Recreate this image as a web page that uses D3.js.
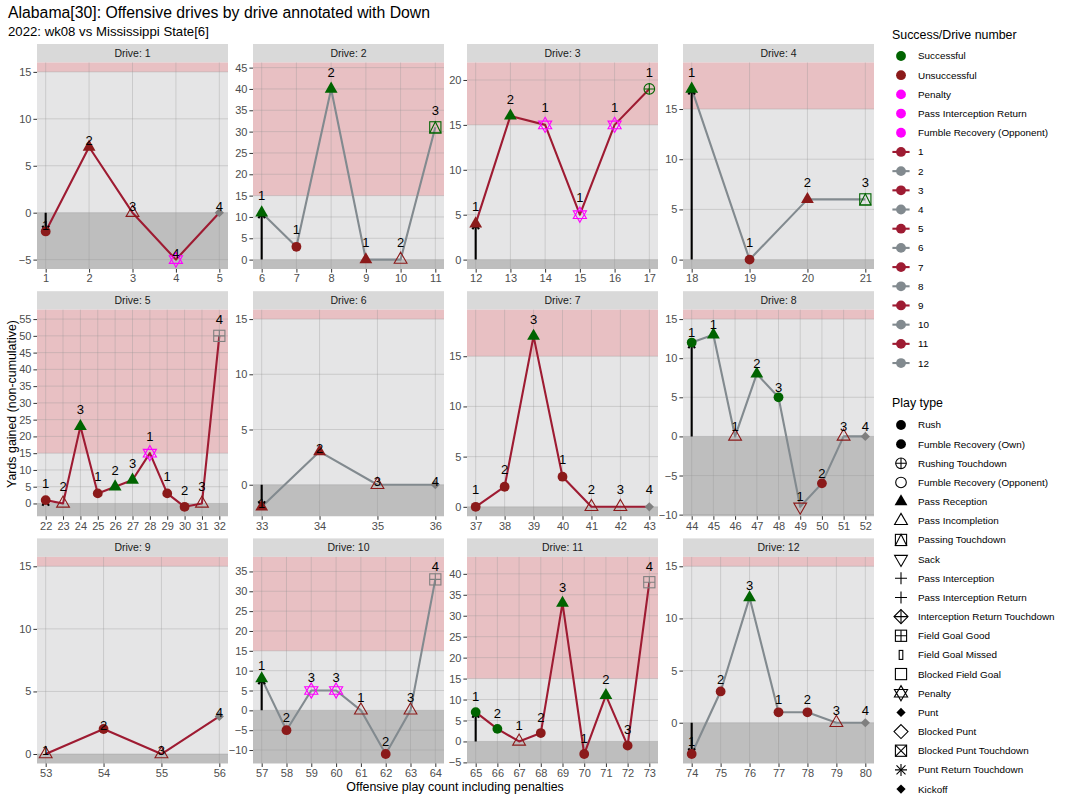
<!DOCTYPE html>
<html><head><meta charset="utf-8">
<script src="https://cdn.jsdelivr.net/npm/d3@7"></script>
<style>body{margin:0;background:#fff;} text{font-family:"Liberation Sans",Arial,sans-serif;}</style>
</head><body><svg id="c" width="1067" height="800"></svg>
<script>
// ---------------- DATA ----------------
const driveNum = [1,1,1,1,1, 2,2,2,2,2,2, 3,3,3,3,3,3, 4,4,4,4,
  5,5,5,5,5,5,5,5,5,5,5, 6,6,6,6, 7,7,7,7,7,7,7, 8,8,8,8,8,8,8,8,8,
  9,9,9,9, 10,10,10,10,10,10,10,10, 11,11,11,11,11,11,11,11,11, 12,12,12,12,12,12,12];
const yards = [-2,7,0,-5,0, 11,3,40,0,0,31, 4,16,15,5,15,19, 17,0,6,6,
  1,0,23,3,5,7,15,3,-1,0,50, -2,3,0,0, 0,2,17,3,0,0,0, 12,13,0,8,5,-9,-6,0,0,
  0,2,0,3, 8,-5,5,5,0,-11,0,33, 7,3,0,2,33,-3,11,-1,38, -3,3,12,1,1,0,0];
const playType = [
  "Rush","Pass Reception","Pass Incompletion","Penalty","Punt",
  "Pass Reception","Rush","Pass Reception","Pass Reception","Pass Incompletion","Passing Touchdown",
  "Pass Reception","Pass Reception","Penalty","Penalty","Penalty","Rushing Touchdown",
  "Pass Reception","Rush","Pass Reception","Passing Touchdown",
  "Rush","Pass Incompletion","Pass Reception","Rush","Pass Reception","Pass Reception","Penalty","Rush","Rush","Pass Incompletion","Field Goal Good",
  "Pass Reception","Pass Reception","Pass Incompletion","Punt",
  "Rush","Rush","Pass Reception","Rush","Pass Incompletion","Pass Incompletion","Punt",
  "Rush","Pass Reception","Pass Incompletion","Pass Reception","Rush","Sack","Rush","Pass Incompletion","Punt",
  "Pass Incompletion","Rush","Pass Incompletion","Punt",
  "Pass Reception","Rush","Penalty","Penalty","Pass Incompletion","Rush","Pass Incompletion","Field Goal Good",
  "Rush","Rush","Pass Incompletion","Rush","Pass Reception","Rush","Pass Reception","Rush","Field Goal Good",
  "Rush","Rush","Pass Reception","Rush","Rush","Pass Incompletion","Punt"];
const success = [
  "U","U","U","P","N", "S","U","S","U","U","S", "U","S","P","P","P","S", "S","U","U","S",
  "U","U","S","U","S","S","P","U","U","U","N", "U","U","U","N", "U","U","S","U","U","U","N",
  "S","S","U","S","S","U","U","U","N", "U","U","U","N", "S","U","P","P","U","U","U","N",
  "S","S","U","U","S","U","S","U","N", "U","U","S","U","U","U","N"];
const down = [1,2,3,4,4, 1,1,2,1,2,3, 1,2,1,1,1,1, 1,1,2,3,
  1,2,3,1,2,3,1,1,2,3,4, 1,2,3,4, 1,2,3,1,2,3,4, 1,1,1,2,3,1,2,3,4,
  1,2,3,4, 1,2,3,3,1,2,3,4, 1,2,1,2,3,1,2,3,4, 1,2,3,1,2,3,4];
const drives = d3.range(1, 13);
const successLabels = ["Successful","Unsuccessful","Penalty","Pass Interception Return","Fumble Recovery (Opponent)"];
const playTypeLabels = ["Rush","Fumble Recovery (Own)","Rushing Touchdown","Fumble Recovery (Opponent)","Pass Reception",
  "Pass Incompletion","Passing Touchdown","Sack","Pass Interception","Pass Interception Return",
  "Interception Return Touchdown","Field Goal Good","Field Goal Missed","Blocked Field Goal","Penalty",
  "Punt","Blocked Punt","Blocked Punt Touchdown","Punt Return Touchdown","Kickoff"];
const titleText = "Alabama[30]: Offensive drives by drive annotated with Down";
const subtitleText = "2022: wk08 vs Mississippi State[6]";

// ---------------- STYLE ----------------
const successColor = {S:"#006400", U:"#8B1A1A", P:"#FF00FF", N:"#7F7F7F"};
const successKeyColor = ["#006400","#8B1A1A","#FF00FF","#FF00FF","#FF00FF"];
const driveColor = d => d % 2 === 1 ? "#9E1B32" : "#828A8F";

const svg = d3.select("#c");
const colLeft = [37, 253, 467, 683];
const panelW = 191;
const rowTop = [44, 291.2, 538.4];
const stripH = 18.5, plotH = 206.5;

function drawShape(g, type, cx, cy, col, k) {
  k = k || 1;
  const s = g.append("g").attr("transform", `translate(${cx},${cy}) scale(${k})`);
  const sw = 1.1;
  const tri = (up, r) => up ? `M0,${-r}L${r*0.866},${r/2}L${-r*0.866},${r/2}Z`
                            : `M0,${r}L${r*0.866},${-r/2}L${-r*0.866},${-r/2}Z`;
  const open = sel => sel.attr("fill","none").attr("stroke",col).attr("stroke-width",sw);
  const sq = r => open(s.append("rect").attr("x",-r).attr("y",-r).attr("width",2*r).attr("height",2*r));
  const plus = r => open(s.append("path").attr("d",`M${-r},0H${r}M0,${-r}V${r}`));
  const cross = r => open(s.append("path").attr("d",`M${-r},${-r}L${r},${r}M${-r},${r}L${r},${-r}`));
  switch (type) {
    case "Rush": case "Fumble Recovery (Own)":
      s.append("circle").attr("r",4.9).attr("fill",col); break;
    case "Rushing Touchdown":
      open(s.append("circle").attr("r",5.3)); plus(5.3); break;
    case "Fumble Recovery (Opponent)":
      open(s.append("circle").attr("r",5.3)); break;
    case "Pass Reception":
      s.append("path").attr("d",tri(true,7.4)).attr("fill",col); break;
    case "Pass Incompletion":
      open(s.append("path").attr("d",tri(true,7.4))); break;
    case "Sack":
      open(s.append("path").attr("d",tri(false,7.4))); break;
    case "Passing Touchdown":
      sq(5.6); open(s.append("path").attr("d","M0,-5.6L5.6,5.6L-5.6,5.6Z")); break;
    case "Pass Interception": case "Pass Interception Return":
      plus(6); break;
    case "Interception Return Touchdown":
      open(s.append("path").attr("d","M0,-7L7,0L0,7L-7,0Z")); plus(7); break;
    case "Field Goal Good":
      sq(5.6); plus(5.6); break;
    case "Field Goal Missed":
      open(s.append("rect").attr("x",-1.8).attr("y",-4.5).attr("width",3.6).attr("height",9)); break;
    case "Blocked Field Goal":
      sq(5.6); break;
    case "Penalty":
      open(s.append("path").attr("d",tri(true,7.6)+tri(false,7.6))); break;
    case "Punt": case "Kickoff":
      s.append("path").attr("d","M0,-4.6L4.6,0L0,4.6L-4.6,0Z").attr("fill",col); break;
    case "Blocked Punt":
      open(s.append("path").attr("d","M0,-7L7,0L0,7L-7,0Z")); break;
    case "Blocked Punt Touchdown":
      sq(5.6); cross(5.6); break;
    case "Punt Return Touchdown":
      plus(6); cross(4.5); break;
  }
}

// ---------------- PANELS ----------------
drives.forEach((d, i) => {
  const col = i % 4, row = Math.floor(i / 4);
  const left = colLeft[col], top = rowTop[row] + stripH, bottom = top + plotH;
  const idx = d3.range(yards.length).filter(j => driveNum[j] === d);
  const pl = idx.map(j => j + 1);
  const ys = idx.map(j => yards[j]);
  const maxY = d3.max(ys), minY = d3.min(ys);
  const nudge = 0.1 * maxY;
  const hi = Math.max(15, maxY + nudge), lo = Math.min(0, minY);
  const ex = 0.05 * (hi - lo);
  const y = d3.scaleLinear().domain([lo - ex, hi + ex]).range([bottom, top]);
  const xr = d3.max(pl) - d3.min(pl);
  const x = d3.scaleLinear().domain([d3.min(pl) - 0.05 * xr, d3.max(pl) + 0.05 * xr]).range([left, left + panelW]);

  const g = svg.append("g");
  // strip
  g.append("rect").attr("x", left).attr("y", rowTop[row]).attr("width", panelW).attr("height", stripH).attr("fill", "#D9D9D9");
  g.append("text").attr("x", left + panelW / 2).attr("y", rowTop[row] + stripH / 2).attr("dy", "0.35em")
    .attr("text-anchor", "middle").attr("font-size", "10.5px").attr("fill", "#1A1A1A").text("Drive: " + d);
  // backgrounds
  g.append("rect").attr("x", left).attr("y", top).attr("width", panelW).attr("height", plotH).attr("fill", "#E5E5E6");
  g.append("rect").attr("x", left).attr("y", top).attr("width", panelW).attr("height", y(15) - top).attr("fill", "#E8C0C3");
  g.append("rect").attr("x", left).attr("y", y(0)).attr("width", panelW).attr("height", bottom - y(0)).attr("fill", "#BEBEBE");
  // grid
  const yt = d3.range(Math.ceil((lo - ex) / 5) * 5, hi + ex + 0.001, 5);
  const gg = g.append("g").attr("stroke", "rgba(150,150,150,0.33)").attr("stroke-width", 1);
  yt.forEach(v => gg.append("line").attr("x1", left).attr("x2", left + panelW).attr("y1", y(v)).attr("y2", y(v)));
  pl.forEach(v => gg.append("line").attr("y1", top).attr("y2", bottom).attr("x1", x(v)).attr("x2", x(v)));
  // axes
  const ax = g.append("g").attr("transform", `translate(0,${bottom})`)
    .call(d3.axisBottom(x).tickValues(pl).tickFormat(d3.format("d")).tickSize(3.6).tickSizeOuter(0).tickPadding(2));
  const ay = g.append("g").attr("transform", `translate(${left},0)`)
    .call(d3.axisLeft(y).tickValues(yt).tickFormat(d3.format("d")).tickSize(3.6).tickSizeOuter(0).tickPadding(2));
  [ax, ay].forEach(a => {
    a.select(".domain").remove();
    a.selectAll(".tick line").attr("stroke", "#333333");
    a.selectAll(".tick text").attr("fill", "#4D4D4D").attr("font-size", "11px")
      .attr("font-family", '"Liberation Sans", Arial, sans-serif');
  });
  // line
  g.append("path").datum(idx).attr("fill", "none").attr("stroke", driveColor(d)).attr("stroke-width", 2.1)
    .attr("stroke-linejoin", "round")
    .attr("d", d3.line().x(j => x(j + 1)).y(j => y(yards[j])));
  // arrow from 0 to first play
  const f = idx[0];
  if (yards[f] !== 0) {
    const x0 = x(f + 1), y0 = y(0), y1 = y(yards[f]);
    const dir = y1 < y0 ? 1 : -1;
    const L = 6.5, a = Math.PI / 6;
    g.append("path").attr("fill", "none").attr("stroke", "#000").attr("stroke-width", 2.1)
      .attr("d", `M${x0},${y0}L${x0},${y1}M${x0 - L * Math.sin(a)},${y1 + dir * L * Math.cos(a)}L${x0},${y1}L${x0 + L * Math.sin(a)},${y1 + dir * L * Math.cos(a)}`);
  }
  // points
  idx.forEach(j => drawShape(g, playType[j], x(j + 1), y(yards[j]), successColor[success[j]]));
  // labels
  idx.forEach(j => g.append("text").attr("x", x(j + 1)).attr("y", y(yards[j] + nudge)).attr("dy", "0.36em")
    .attr("text-anchor", "middle").attr("font-size", "13px").attr("fill", "#000").text(down[j]));
});

// ---------------- TITLES ----------------
svg.append("text").attr("x", 8).attr("y", 17.5).attr("font-size", "15.8px").attr("fill", "#000").text(titleText);
svg.append("text").attr("x", 8).attr("y", 35.5).attr("font-size", "13.2px").attr("fill", "#000").text(subtitleText);
svg.append("text").attr("x", 455).attr("y", 791).attr("text-anchor", "middle").attr("font-size", "12.4px").attr("fill", "#000")
  .text("Offensive play count including penalties");
svg.append("text").attr("transform", "translate(16,404) rotate(-90)").attr("text-anchor", "middle").attr("font-size", "12.4px")
  .attr("fill", "#000").text("Yards gained (non-cumulative)");

// ---------------- LEGENDS ----------------
const lx = 892, keyCx = 901, labX = 918;
svg.append("text").attr("x", lx).attr("y", 35).attr("dy", "0.35em").attr("font-size", "12.4px").text("Success/Drive number");
const lg1 = svg.append("g");
successLabels.forEach((lab, i) => {
  const cy = 56 + i * 19.19;
  lg1.append("circle").attr("cx", keyCx).attr("cy", cy).attr("r", 4.9).attr("fill", successKeyColor[i]);
  lg1.append("text").attr("x", labX).attr("y", cy).attr("dy", "0.35em").attr("font-size", "9.9px").text(lab);
});
drives.forEach((d, i) => {
  const cy = 56 + (i + 5) * 19.19;
  lg1.append("line").attr("x1", keyCx - 8.6).attr("x2", keyCx + 8.6).attr("y1", cy).attr("y2", cy)
    .attr("stroke", driveColor(d)).attr("stroke-width", 2.1);
  lg1.append("circle").attr("cx", keyCx).attr("cy", cy).attr("r", 4.9).attr("fill", driveColor(d));
  lg1.append("text").attr("x", labX).attr("y", cy).attr("dy", "0.35em").attr("font-size", "9.9px").text(d);
});
svg.append("text").attr("x", lx).attr("y", 403).attr("dy", "0.35em").attr("font-size", "12.4px").text("Play type");
const lg2 = svg.append("g");
playTypeLabels.forEach((lab, i) => {
  const cy = 425 + i * 19.16;
  drawShape(lg2, lab, keyCx, cy, "#000");
  lg2.append("text").attr("x", labX).attr("y", cy).attr("dy", "0.35em").attr("font-size", "9.9px").text(lab);
});
</script></body></html>
